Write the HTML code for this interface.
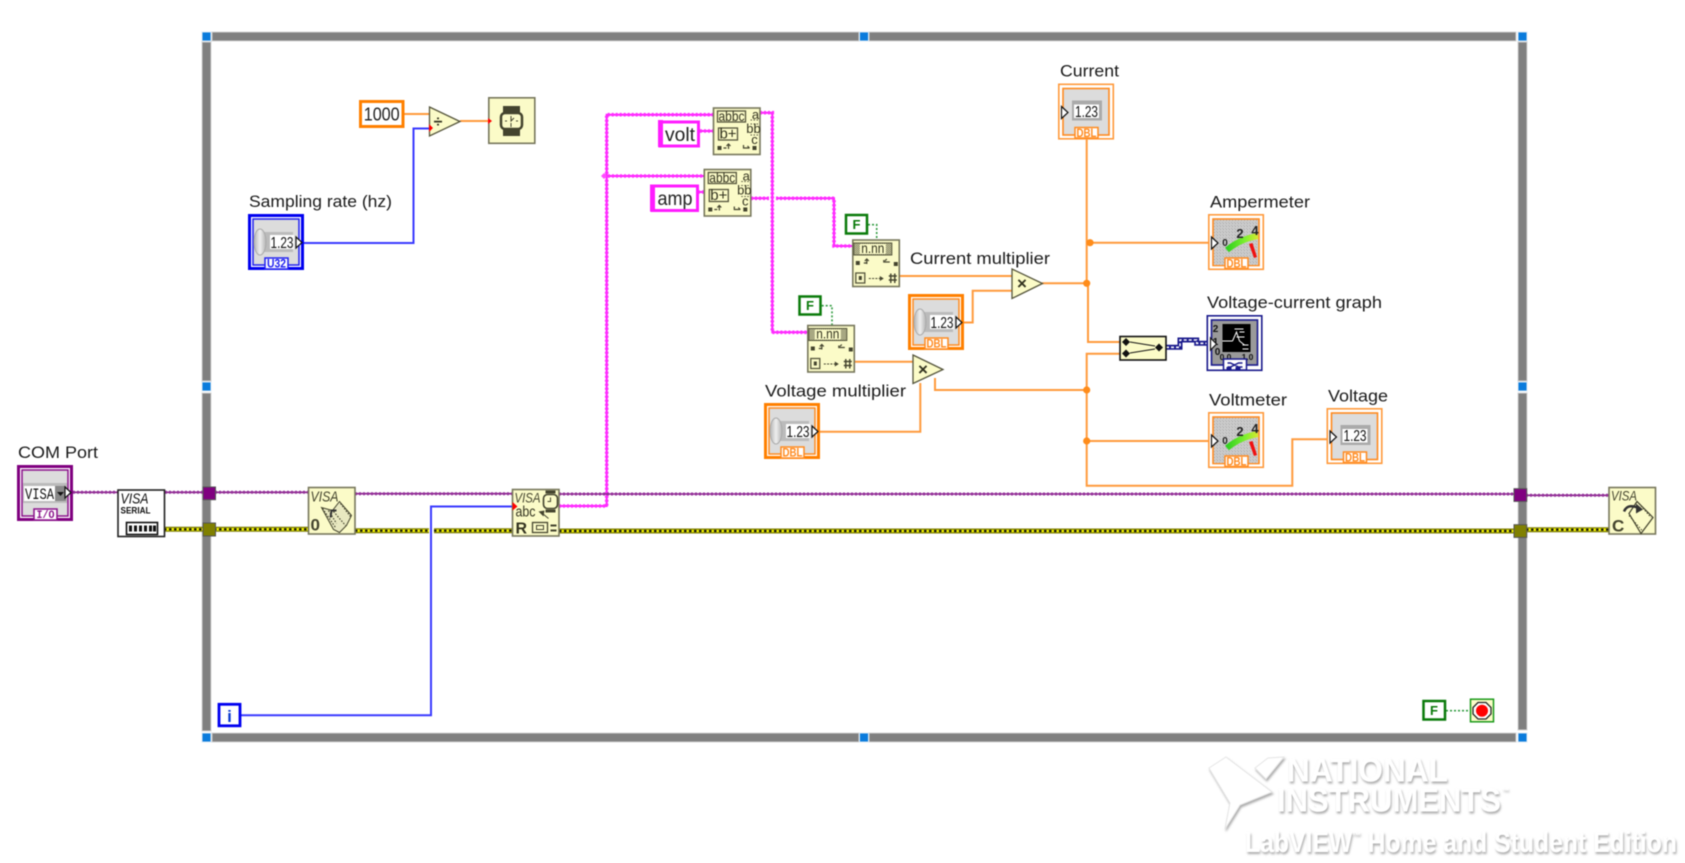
<!DOCTYPE html>
<html><head><meta charset="utf-8"><title>LabVIEW block diagram</title>
<style>
html,body{margin:0;padding:0;background:#fff;width:1685px;height:863px;overflow:hidden}
svg{display:block;filter:blur(.45px)}
text{font-family:"Liberation Sans",sans-serif}
.l{font-size:17px;fill:#1a1a1a}
.o{fill:none;stroke:#ff9a3c;stroke-width:2}
.bw{fill:none;stroke:#3a3aff;stroke-width:2}
.p1{fill:none;stroke:#ff1cff;stroke-width:2}
.p2{fill:none;stroke:#ff2eff;stroke-width:3.6;stroke-dasharray:2 2}
.v1{fill:none;stroke:#8a208a;stroke-width:1.6}
.v2{fill:none;stroke:#93309a;stroke-width:3;stroke-dasharray:2 2}
.y1{fill:none;stroke:#7d7d00;stroke-width:5}
.y2{fill:none;stroke:#f0f000;stroke-width:2.6}
.y3{fill:none;stroke:#111;stroke-width:2.2;stroke-dasharray:2.5 2.5}
.g{fill:none;stroke:#2f9a3f;stroke-width:1.6;stroke-dasharray:2 2}
.bar{fill:#808080;stroke:#d4d4d4;stroke-width:1}
.h{fill:#0a7bdc;stroke:#d8e8f5;stroke-width:1}
.t{fill:#fbfbc8;stroke:#77775c;stroke-width:1.6}
.in{fill:#fbfbc8;stroke:#55553c;stroke-width:1.3}
.d{fill:#44442e}
.tx{fill:#33331f}
.ar{fill:#fff;stroke:#111;stroke-width:1.2}
.num{font-size:16px;fill:#111}
.dbl{font-size:11.5px;font-weight:bold;fill:#ff8a1e}
.logo{fill:#fff;font-weight:bold}
</style></head><body>
<svg width="1685" height="863" viewBox="0 0 1685 863" xmlns="http://www.w3.org/2000/svg">
<defs>
<filter id="sh" x="-5%" y="-20%" width="110%" height="150%"><feDropShadow dx="1" dy="2" stdDeviation="1" flood-color="#aaa"/></filter>
<linearGradient id="kn" x1="0" x2="1"><stop offset="0" stop-color="#b4b4b4"/><stop offset=".5" stop-color="#eee"/><stop offset="1" stop-color="#b4b4b4"/></linearGradient>
<linearGradient id="arc" x1="0" x2="1"><stop offset="0" stop-color="#30d020"/><stop offset=".6" stop-color="#80f030"/><stop offset="1" stop-color="#d8e830"/></linearGradient>
<pattern id="noise" width="3" height="3" patternUnits="userSpaceOnUse"><rect width="3" height="3" fill="#cdcdcd"/><rect width="1" height="1" fill="#a8a8a8"/><rect x="2" y="2" width="1" height="1" fill="#b4b4b4"/></pattern>
<pattern id="chk" width="2" height="2" patternUnits="userSpaceOnUse"><rect width="2" height="2" fill="#fbfbc8"/><rect width="1" height="1" fill="#55553c"/><rect x="1" y="1" width="1" height="1" fill="#55553c"/></pattern>
<g id="knob"><rect x="12" y="18" width="33" height="20" fill="#bbb"/><ellipse cx="12" cy="28" rx="6" ry="13" fill="url(#kn)" stroke="#aaa"/><rect x="22" y="21" width="24" height="14" fill="#fff"/></g>
<g id="meter"><rect x="6" y="6" width="44" height="45" fill="url(#noise)"/><path d="M19 36Q32 25 50 22" fill="none" stroke="url(#arc)" stroke-width="6"/><path d="M41 30L44.500 29L49 43L46 44Z" fill="#f01010"/></g>
<g id="fractbody"><rect x="1" y="3" width="38" height="12" fill="url(#chk)" stroke="#55553c"/><rect x="7" y="4" width="26" height="10" fill="#fbfbc8"/><rect x="3" y="21" width="4" height="4" class="d"/><path d="M11 23H14M14 20V24M12 21L14 19L16 21" fill="none" stroke="#44442e" stroke-width="1.200"/><rect x="41" y="22" width="4" height="4" class="d"/><path d="M31 20V22H37M34 19L32 21" fill="none" stroke="#44442e" stroke-width="1.200"/><rect x="3" y="33" width="9" height="10" fill="none" stroke="#55553c" stroke-width="1.300"/><rect x="6" y="36" width="3" height="4" class="d"/><path d="M16 38.500H30" stroke="#44442e" stroke-width="1" stroke-dasharray="2 1.300"/><path d="M27 36L31 38.500L27 41Z" class="d"/><path d="M36 36H44M36 40H44M38 33.500V43M42 33.500V43" stroke="#44442e" stroke-width="1.400"/></g>
<g id="scanbody"><rect x="4" y="3" width="28" height="11" fill="none" stroke="#55553c" stroke-width="1.300"/><rect x="5" y="20" width="19" height="12" fill="none" stroke="#55553c" stroke-width="1.300"/><rect x="4" y="38" width="4" height="4" class="d"/><path d="M10 40H13M15 36V41M13 38L15 36L17 38" fill="none" stroke="#44442e" stroke-width="1.200"/><path d="M30 37V40H36M34 38L36 40" fill="none" stroke="#44442e" stroke-width="1.200"/><rect x="39" y="38" width="4" height="4" class="d"/><path d="M37 12H45M37 16H45M37 27H45" stroke="#55553c" stroke-width="1" stroke-dasharray="1.500 1.500"/></g>
</defs>

<!-- structure frame -->
<rect class="bar" x="212" y="32" width="647" height="9"/>
<rect class="bar" x="869" y="32" width="647" height="9"/>
<rect class="bar" x="212" y="733" width="647" height="9"/>
<rect class="bar" x="869" y="733" width="647" height="9"/>
<rect class="bar" x="202" y="42" width="9" height="339"/>
<rect class="bar" x="202" y="393" width="9" height="338"/>
<rect class="bar" x="1518" y="42" width="9" height="339"/>
<rect class="bar" x="1518" y="393" width="9" height="337"/>
<rect class="h" x="202" y="32" width="9" height="9"/>
<rect class="h" x="859.500" y="32" width="9" height="9"/>
<rect class="h" x="1518" y="32" width="9" height="9"/>
<rect class="h" x="202" y="382" width="9" height="9"/>
<rect class="h" x="1518" y="382" width="9" height="9"/>
<rect class="h" x="202" y="733" width="9" height="9"/>
<rect class="h" x="859.500" y="733" width="9" height="9"/>
<rect class="h" x="1518" y="733" width="9" height="9"/>

<!-- wires: blue -->
<path class="bw" d="M303 243H413.500V128.500H431"/>
<path class="bw" d="M241 715.300H431V506.500H514"/>
<!-- wires: orange -->
<path class="o" d="M404 114H430M460 121H489"/>
<path class="o" d="M899 276H1012M964 322.500H972.700V290.700H1012M1042 283.300H1086.700"/>
<path class="o" d="M855 361.700H913M820 431.700H920.300V383M935 378V390H1086.700"/>
<path class="o" d="M1086.700 139V283.300M1088 283.300V342H1120M1090 242.700H1208"/>
<path class="o" d="M1120 353.700H1086.700V485.700H1292.300V439.300H1327M1086.700 441H1208"/>
<circle cx="1090" cy="242.700" r="3.600" fill="#ff8c1a"/>
<circle cx="1086.700" cy="283.300" r="3.600" fill="#ff8c1a"/>
<circle cx="1086.700" cy="390" r="3.600" fill="#ff8c1a"/>
<circle cx="1086.700" cy="441" r="3.600" fill="#ff8c1a"/>
<!-- wires: pink -->
<path class="p1" d="M559 506H606.700V114.700H714M604 176H704M700 131H714M698 192H704M760 112.700H772.300V332.300H808M751 198.300H769M776 198.300H834V246H853"/>
<path class="p2" d="M559 506H606.700V114.700H714M604 176H704M700 131H714M698 192H704M760 112.700H772.300V332.300H808M751 198.300H769M776 198.300H834V246H853"/>
<path d="M604 173L607 176L604 179L601 176Z" fill="#ff4dff"/>
<!-- wires: purple -->
<path class="v1" d="M73 492.300H204M215 492.300H308M355 493.700H512M559 494H1514M1526 495.300H1608.500"/>
<path class="v2" d="M73 492.300H204M215 492.300H308M355 493.700H512M559 494H1514M1526 495.300H1608.500"/>
<!-- wires: error -->
<path class="y1" d="M164 529.300H308M355 530.700H429M434 530.700H512M559 531H1514M1526 529.700H1608.500"/>
<path class="y2" d="M164 529.300H308M355 530.700H429M434 530.700H512M559 531H1514M1526 529.700H1608.500"/>
<path class="y3" d="M164 529.300H308M355 530.700H429M434 530.700H512M559 531H1514M1526 529.700H1608.500"/>
<!-- tunnels -->
<rect x="203" y="487" width="12.500" height="12.700" fill="#800080" stroke="#555" stroke-width="1"/>
<rect x="203" y="523" width="12.500" height="13" fill="#808000" stroke="#555" stroke-width="1"/>
<rect x="1514" y="488.700" width="12.700" height="12.700" fill="#800080" stroke="#555" stroke-width="1"/>
<rect x="1514" y="524.700" width="12.700" height="12.700" fill="#808000" stroke="#555" stroke-width="1"/>
<!-- boolean wires -->
<path class="g" d="M868 224.700H876.700V240M821.700 305.700H832V325M1446 710.700H1470"/>
<!-- cluster wire -->
<path d="M1166 347.300H1180V340H1196.700V343.300H1207" fill="none" stroke="#1a1a8c" stroke-width="5"/>
<path d="M1166 347.300H1180V340H1196.700V343.300H1207" fill="none" stroke="#fff" stroke-width="1.600" stroke-dasharray="3 2"/>

<!-- numeric constant + divide + wait -->
<rect x="360.500" y="101.500" width="42.500" height="25" fill="#fff" stroke="#ff8000" stroke-width="3"/>
<text x="381.700" y="120.500" font-size="18" fill="#222" text-anchor="middle" textLength="36" lengthAdjust="spacingAndGlyphs">1000</text>
<path class="in" d="M429.500 107L460 121.500L429.500 136Z"/>
<text x="438" y="127" font-size="16" font-weight="bold" fill="#33331f" text-anchor="middle">÷</text>
<path d="M429 124L433 128L429 132Z" fill="#f00"/>
<rect class="t" x="488.800" y="97.800" width="46" height="45.500"/>
<rect x="503" y="106" width="17" height="8" class="d"/><rect x="503" y="128" width="17" height="8" class="d"/>
<rect x="501" y="113" width="21" height="16" rx="4" fill="#fbfbc8" stroke="#44442e" stroke-width="2.500"/>
<path d="M511 116V121L514 118M511 123V127M505 121H507M516 121H518" stroke="#44442e" stroke-width="1" fill="none"/>
<path d="M488 118L492 121L488 124Z" fill="#f00"/>

<!-- Sampling rate -->
<text class="l" x="249" y="207" textLength="143" lengthAdjust="spacingAndGlyphs">Sampling rate (hz)</text>
<g transform="translate(248 214)">
<rect x="1.500" y="1.500" width="53" height="53" fill="#fff" stroke="#0000f0" stroke-width="3"/>
<rect x="5" y="5" width="46" height="46" fill="#dcdcdc" stroke="#2020f0" stroke-width="1.500"/>
<use href="#knob"/>
<text class="num" x="22.500" y="34" textLength="23" lengthAdjust="spacingAndGlyphs">1.23</text>
<path class="ar" d="M48 23L54 28.500L48 34Z"/>
<rect x="17" y="44" width="23" height="11" fill="#fff" stroke="#2020f0" stroke-width="1.500"/>
<text x="28.500" y="53.500" font-size="11.500" font-weight="bold" fill="#2020f0" text-anchor="middle" textLength="19" lengthAdjust="spacingAndGlyphs">U32</text>
</g>

<!-- string constants -->
<rect x="660" y="122" width="38.500" height="24" fill="#fff" stroke="#ff1cff" stroke-width="3"/>
<rect x="658" y="120" width="5" height="27" fill="#ff1cff"/>
<text x="680" y="141" font-size="19" fill="#222" text-anchor="middle" textLength="30" lengthAdjust="spacingAndGlyphs">volt</text>
<rect x="652" y="186" width="45.500" height="24.500" fill="#fff" stroke="#ff1cff" stroke-width="3"/>
<rect x="650" y="184.500" width="5" height="27" fill="#ff1cff"/>
<text x="675" y="205" font-size="19" fill="#222" text-anchor="middle" textLength="35" lengthAdjust="spacingAndGlyphs">amp</text>

<!-- scan string nodes -->
<g transform="translate(713.500 108)">
<rect class="t" width="46.500" height="46.500"/><use href="#scanbody"/>
<text class="tx" x="18" y="13" font-size="14" text-anchor="middle" textLength="26" lengthAdjust="spacingAndGlyphs">abbc</text>
<text class="tx" x="14.500" y="30.500" font-size="15" text-anchor="middle">b+</text>
<text class="tx" x="42" y="11" font-size="13" text-anchor="middle">a</text>
<text class="tx" x="40" y="25" font-size="13" text-anchor="middle">bb</text>
<text class="tx" x="41" y="36" font-size="13" text-anchor="middle">c</text>
</g>
<g transform="translate(704.300 169.500)">
<rect class="t" width="46.500" height="46.500"/><use href="#scanbody"/>
<text class="tx" x="18" y="13" font-size="14" text-anchor="middle" textLength="26" lengthAdjust="spacingAndGlyphs">abbc</text>
<text class="tx" x="14.500" y="30.500" font-size="15" text-anchor="middle">b+</text>
<text class="tx" x="42" y="11" font-size="13" text-anchor="middle">a</text>
<text class="tx" x="40" y="25" font-size="13" text-anchor="middle">bb</text>
<text class="tx" x="41" y="36" font-size="13" text-anchor="middle">c</text>
</g>

<!-- F constants -->
<rect x="846" y="215" width="21" height="18.500" fill="#fff" stroke="#0a7a0a" stroke-width="2.500"/>
<text x="856.500" y="229" font-size="13" font-weight="bold" fill="#0a7a0a" text-anchor="middle">F</text>
<rect x="799.500" y="296.500" width="21" height="18" fill="#fff" stroke="#0a7a0a" stroke-width="2.500"/>
<text x="810" y="310" font-size="13" font-weight="bold" fill="#0a7a0a" text-anchor="middle">F</text>
<rect x="1423.500" y="701" width="21.500" height="18.500" fill="#fff" stroke="#0a7a0a" stroke-width="2.500"/>
<text x="1434" y="715" font-size="13" font-weight="bold" fill="#0a7a0a" text-anchor="middle">F</text>

<!-- fract nodes -->
<g transform="translate(852.800 240)">
<rect class="t" width="46.500" height="46.500"/><use href="#fractbody"/>
<text class="tx" x="20" y="13" font-size="13.500" text-anchor="middle" textLength="23" lengthAdjust="spacingAndGlyphs">n.nn</text>
</g>
<g transform="translate(807.800 325.500)">
<rect class="t" width="46.500" height="46.500"/><use href="#fractbody"/>
<text class="tx" x="20" y="13" font-size="13.500" text-anchor="middle" textLength="23" lengthAdjust="spacingAndGlyphs">n.nn</text>
</g>

<!-- labels middle -->
<text class="l" x="910" y="264" textLength="140" lengthAdjust="spacingAndGlyphs">Current multiplier</text>
<text class="l" x="765" y="396.500" textLength="141" lengthAdjust="spacingAndGlyphs">Voltage multiplier</text>

<!-- multiply -->
<path class="in" d="M1012 269L1042.500 283.500L1012 298.500Z"/>
<text x="1022" y="289" font-size="17" font-weight="bold" fill="#33331f" text-anchor="middle">×</text>
<path class="in" d="M913 355L943 369.500L913 383.500Z"/>
<text x="923" y="375" font-size="17" font-weight="bold" fill="#33331f" text-anchor="middle">×</text>

<!-- DBL controls -->
<g transform="translate(908 294)">
<rect x="1.500" y="1.500" width="53" height="53" fill="#fff" stroke="#ff8000" stroke-width="3"/>
<rect x="5" y="5" width="46" height="46" fill="#dcdcdc" stroke="#ff8a1e" stroke-width="1.500"/>
<use href="#knob"/>
<text class="num" x="22.500" y="34" textLength="23" lengthAdjust="spacingAndGlyphs">1.23</text>
<path class="ar" d="M48 23L54 28.500L48 34Z"/>
<rect x="17" y="44" width="23" height="11" fill="#fff" stroke="#ff8a1e" stroke-width="1.500"/>
<text class="dbl" x="28.500" y="53.500" text-anchor="middle" textLength="20" lengthAdjust="spacingAndGlyphs">DBL</text>
</g>
<g transform="translate(764 403)">
<rect x="1.500" y="1.500" width="53" height="53" fill="#fff" stroke="#ff8000" stroke-width="3"/>
<rect x="5" y="5" width="46" height="46" fill="#dcdcdc" stroke="#ff8a1e" stroke-width="1.500"/>
<use href="#knob"/>
<text class="num" x="22.500" y="34" textLength="23" lengthAdjust="spacingAndGlyphs">1.23</text>
<path class="ar" d="M48 23L54 28.500L48 34Z"/>
<rect x="17" y="44" width="23" height="11" fill="#fff" stroke="#ff8a1e" stroke-width="1.500"/>
<text class="dbl" x="28.500" y="53.500" text-anchor="middle" textLength="20" lengthAdjust="spacingAndGlyphs">DBL</text>
</g>

<!-- Current indicator -->
<text class="l" x="1060" y="76.500" textLength="59" lengthAdjust="spacingAndGlyphs">Current</text>
<g transform="translate(1058 83.500)">
<rect x=".8" y=".8" width="54.500" height="54.500" fill="#fff" stroke="#ff9a3c" stroke-width="1.600"/>
<rect x="5" y="5" width="46" height="46.500" fill="#dcdcdc" stroke="#ff8a1e" stroke-width="1.600"/>
<rect x="14" y="17" width="30" height="20" fill="#aaa"/><rect x="16" y="21" width="25" height="13.500" fill="#fff"/>
<text class="num" x="17" y="33.500" textLength="23" lengthAdjust="spacingAndGlyphs">1.23</text>
<path class="ar" d="M3.500 23L10 29L3.500 35Z"/>
<rect x="17" y="44" width="23" height="10.500" fill="#fff" stroke="#ff8a1e" stroke-width="1.500"/>
<text class="dbl" x="28.500" y="53.500" text-anchor="middle" textLength="20" lengthAdjust="spacingAndGlyphs">DBL</text>
</g>

<!-- Voltage indicator -->
<text class="l" x="1328" y="401.500" textLength="60" lengthAdjust="spacingAndGlyphs">Voltage</text>
<g transform="translate(1326.500 408)">
<rect x=".8" y=".8" width="54.500" height="54.500" fill="#fff" stroke="#ff9a3c" stroke-width="1.600"/>
<rect x="5" y="5" width="46" height="46.500" fill="#dcdcdc" stroke="#ff8a1e" stroke-width="1.600"/>
<rect x="14" y="17" width="30" height="20" fill="#aaa"/><rect x="16" y="21" width="25" height="13.500" fill="#fff"/>
<text class="num" x="17" y="33" textLength="23" lengthAdjust="spacingAndGlyphs">1.23</text>
<path class="ar" d="M3.500 23L10 29L3.500 35Z"/>
<rect x="17" y="44" width="23" height="10.500" fill="#fff" stroke="#ff8a1e" stroke-width="1.500"/>
<text class="dbl" x="28.500" y="53.500" text-anchor="middle" textLength="20" lengthAdjust="spacingAndGlyphs">DBL</text>
</g>

<!-- Ampermeter -->
<text class="l" x="1210" y="207.500" textLength="100" lengthAdjust="spacingAndGlyphs">Ampermeter</text>
<g transform="translate(1208 214)">
<rect x=".8" y=".8" width="54.500" height="54.500" fill="#fff" stroke="#ff9a3c" stroke-width="1.600"/>
<rect x="5" y="5" width="46" height="46.500" fill="#ccc" stroke="#ff8a1e" stroke-width="1.600"/>
<use href="#meter"/>
<text x="17" y="32" font-size="10" font-weight="bold" fill="#222" text-anchor="middle">0</text>
<text x="32" y="24" font-size="13" font-weight="bold" fill="#222" text-anchor="middle">2</text>
<text x="47" y="21" font-size="13" font-weight="bold" fill="#222" text-anchor="middle">4</text>
<path class="ar" d="M3.500 23L10 29L3.500 35Z"/>
<rect x="17" y="44" width="23" height="10.500" fill="#fff" stroke="#ff8a1e" stroke-width="1.500"/>
<text class="dbl" x="28.500" y="53.500" text-anchor="middle" textLength="20" lengthAdjust="spacingAndGlyphs">DBL</text>
</g>

<!-- Voltmeter -->
<text class="l" x="1209" y="405.500" textLength="78" lengthAdjust="spacingAndGlyphs">Voltmeter</text>
<g transform="translate(1208 412)">
<rect x=".8" y=".8" width="54.500" height="54.500" fill="#fff" stroke="#ff9a3c" stroke-width="1.600"/>
<rect x="5" y="5" width="46" height="46.500" fill="#ccc" stroke="#ff8a1e" stroke-width="1.600"/>
<use href="#meter"/>
<text x="17" y="32" font-size="10" font-weight="bold" fill="#222" text-anchor="middle">0</text>
<text x="32" y="24" font-size="13" font-weight="bold" fill="#222" text-anchor="middle">2</text>
<text x="47" y="21" font-size="13" font-weight="bold" fill="#222" text-anchor="middle">4</text>
<path class="ar" d="M3.500 23L10 29L3.500 35Z"/>
<rect x="17" y="44" width="23" height="10.500" fill="#fff" stroke="#ff8a1e" stroke-width="1.500"/>
<text class="dbl" x="28.500" y="53.500" text-anchor="middle" textLength="20" lengthAdjust="spacingAndGlyphs">DBL</text>
</g>

<!-- Build array -->
<rect x="1120" y="336.500" width="46" height="23.500" fill="#fbfbc8" stroke="#111" stroke-width="1.600"/>
<path d="M1126 338L1130 342L1126 346L1122 342ZM1126 349.500L1130 353.500L1126 357.500L1122 353.500ZM1159 343.500L1163 347.500L1159 351.500L1155 347.500Z" fill="#111"/>
<path d="M1130 342L1155 346M1130 353L1155 349" stroke="#111" stroke-width="1"/>

<!-- Graph -->
<text class="l" x="1207" y="308" textLength="175" lengthAdjust="spacingAndGlyphs">Voltage-current graph</text>
<g transform="translate(1206.500 315)">
<rect x=".8" y=".8" width="54.500" height="54.500" fill="#fff" stroke="#1a1a8c" stroke-width="1.600"/>
<rect x="5" y="5" width="46" height="45" fill="#9a9a9a" stroke="#1a1a8c" stroke-width="1.600"/>
<rect x="16" y="9" width="28" height="28" fill="#000"/>
<path d="M16 26H26M26 26L30 17L33 26L38 30M28 14H37M33 17H38M30 22H38M36 30H42M36 34H42" stroke="#fff" stroke-width="1" fill="none"/>
<text x="9" y="17" font-size="10" font-weight="bold" fill="#111" text-anchor="middle">2</text>
<text x="9" y="30" font-size="10" font-weight="bold" fill="#111" text-anchor="middle">1</text>
<text x="11" y="40" font-size="10" font-weight="bold" fill="#111" text-anchor="middle">0</text>
<text x="19" y="45" font-size="8.500" font-weight="bold" fill="#111" text-anchor="middle">0.0</text>
<text x="41" y="45" font-size="8.500" font-weight="bold" fill="#111" text-anchor="middle">1.0</text>
<path class="ar" d="M4 23L10 29L4 35Z"/>
<rect x="17" y="44" width="23" height="11" fill="#fff" stroke="#1a1a8c" stroke-width="1.500"/>
<path d="M21 48H24L32 52H36M21 52H24L32 48H36" stroke="#1a1a8c" stroke-width="1.500" fill="none"/>
<rect x="20" y="52" width="5" height="3" fill="#1a1a8c"/><rect x="29" y="52" width="5" height="3" fill="#1a1a8c"/>
</g>

<!-- COM Port -->
<text class="l" x="18" y="458" textLength="80" lengthAdjust="spacingAndGlyphs">COM Port</text>
<g transform="translate(17 465)">
<rect x="1.500" y="1.500" width="53" height="53" fill="#fff" stroke="#800080" stroke-width="3"/>
<rect x="5" y="5" width="46" height="46" fill="#dcdcdc" stroke="#8a108a" stroke-width="1.500"/>
<rect x="6" y="18" width="44" height="20" fill="#bbb"/>
<rect x="7" y="21" width="42" height="15" fill="#fff"/>
<rect x="38" y="21" width="11" height="15" fill="#888"/>
<path d="M40 27H47L43.500 31Z" fill="#111"/>
<text x="8" y="34" font-size="16" fill="#111" style="font-family:'Liberation Mono',monospace" textLength="29" lengthAdjust="spacingAndGlyphs">VISA</text>
<path class="ar" d="M48 22L54 27.500L48 33Z"/>
<rect x="17" y="44" width="23" height="11" fill="#fff" stroke="#8a108a" stroke-width="1.500"/>
<text x="28.500" y="53" font-size="11" font-weight="bold" fill="#8a108a" text-anchor="middle" textLength="18" lengthAdjust="spacingAndGlyphs" style="font-family:'Liberation Mono',monospace">I/O</text>
</g>

<!-- VISA serial -->
<g transform="translate(117.500 489.500)">
<rect x=".5" y=".5" width="46.500" height="46.500" fill="#fff" stroke="#222" stroke-width="1.600"/>
<text x="3" y="14" font-size="14.500" font-style="italic" fill="#111" textLength="28" lengthAdjust="spacingAndGlyphs">VISA</text>
<text x="3" y="24" font-size="9" font-weight="bold" fill="#111" textLength="30" lengthAdjust="spacingAndGlyphs">SERIAL</text>
<rect x="9" y="33" width="31" height="12" fill="#fff" stroke="#111" stroke-width="1.600"/>
<path d="M13 36V42M18 36V42M23 36V42M28 36V42M33 36V42M37 36V42" stroke="#111" stroke-width="3"/>
</g>

<!-- VISA open-ish node -->
<g transform="translate(308.500 487.500)">
<rect class="t" width="46.500" height="46.500"/>
<text x="2" y="14" font-size="14.500" font-style="italic" fill="#44442e" textLength="28" lengthAdjust="spacingAndGlyphs">VISA</text>
<text x="2" y="43" font-size="17" font-weight="bold" fill="#44442e">0</text>
<path d="M13 20L25 42L31 45L38 38L43 28L31 14L24 23Z" fill="#e8e8c0" stroke="#44442e" stroke-width="1"/>
<path d="M14 21L27 40M32 16L42 29M25 24L37 38M20 23L28 36" stroke="#44442e" stroke-width="1.200" stroke-dasharray="1.500 1.500"/>
<path d="M22 30L23 23H28" fill="none" stroke="#333" stroke-width="2"/>
</g>

<!-- VISA read -->
<g transform="translate(512.500 489.500)">
<rect class="t" width="46.500" height="46.500"/>
<text x="2" y="13" font-size="14" font-style="italic" fill="#44442e" textLength="26" lengthAdjust="spacingAndGlyphs">VISA</text>
<text x="3" y="27" font-size="15" fill="#33331f" textLength="20" lengthAdjust="spacingAndGlyphs">abc</text>
<text x="3" y="44" font-size="16" font-weight="bold" fill="#33331f">R</text>
<rect x="33" y="1" width="10" height="3" class="d"/><rect x="33" y="20" width="10" height="3" class="d"/>
<rect x="31" y="5" width="14" height="14" rx="4" fill="#fbfbc8" stroke="#44442e" stroke-width="1.600"/>
<path d="M38 8V12H35" fill="none" stroke="#44442e" stroke-width="1"/>
<path d="M30 24L36 29" stroke="#44442e" stroke-width="1"/>
<path d="M26 22L32 21L31 27Z" fill="#44442e"/>
<rect x="20" y="33" width="15" height="10" fill="none" stroke="#44442e" stroke-width="1.300"/>
<rect x="24" y="36" width="7" height="4" fill="none" stroke="#44442e"/>
<path d="M38 35H44V37H38ZM38 40H44V42H38Z" fill="#44442e"/>
<path d="M0 12.500L5 17L0 21Z" fill="#f00"/>
</g>

<!-- VISA close -->
<g transform="translate(1609 487.500)">
<rect class="t" width="46.500" height="46.500"/>
<text x="2" y="13" font-size="14" font-style="italic" fill="#44442e" textLength="26" lengthAdjust="spacingAndGlyphs">VISA</text>
<text x="3" y="44" font-size="17" font-weight="bold" fill="#44442e">C</text>
<path d="M20 26L28 14L44 30L32 46Z" fill="#fbfbc8" stroke="#44442e" stroke-width="1.200"/>
<path d="M20 28L34 44M30 16L42 30" stroke="#44442e" stroke-width="1" stroke-dasharray="1.500 1.500"/>
<path d="M15 24C18 17 24 18 31 21" fill="none" stroke="#333" stroke-width="2.500"/>
<path d="M27 16L34 22L27 26Z" fill="#333"/>
</g>

<!-- i terminal -->
<rect x="219" y="704.300" width="21" height="21.500" fill="#fff" stroke="#0000f0" stroke-width="2.800"/>
<text x="229.500" y="722" font-size="17" font-weight="bold" fill="#0a3ad0" text-anchor="middle">i</text>

<!-- stop -->
<rect x="1470.500" y="699.200" width="23" height="22.600" fill="#fbfbc8" stroke="#1a9a1a" stroke-width="1.500"/>
<path d="M1478 702.500H1486L1491 707.500V714L1486 719H1478L1473 714V707.500Z" fill="#fff" stroke="#222" stroke-width="1.300"/>
<circle cx="1482" cy="710.700" r="6" fill="#f00"/>

<!-- watermark -->
<g filter="url(#sh)">
<path class="logo" d="M1209 768L1226 757L1272 792L1240 805L1225 829L1230 803Z" stroke="#e6e6e6" stroke-width="1"/>
<path class="logo" d="M1255 768L1268 758L1284 757L1266 779Z" stroke="#e6e6e6" stroke-width="1"/>
<text class="logo" x="1287" y="781.500" font-size="33" textLength="161" lengthAdjust="spacingAndGlyphs">NATIONAL</text>
<text class="logo" x="1277" y="811.500" font-size="33" textLength="224" lengthAdjust="spacingAndGlyphs">INSTRUMENTS</text>
<text class="logo" x="1502" y="793" font-size="7">™</text>
<text class="logo" x="1245" y="852" font-size="29" textLength="432" lengthAdjust="spacingAndGlyphs">LabVIEW<tspan font-size="10" dy="-13">™</tspan><tspan dy="13"> Home and Student Edition</tspan></text>
</g>
</svg>
</body></html>
